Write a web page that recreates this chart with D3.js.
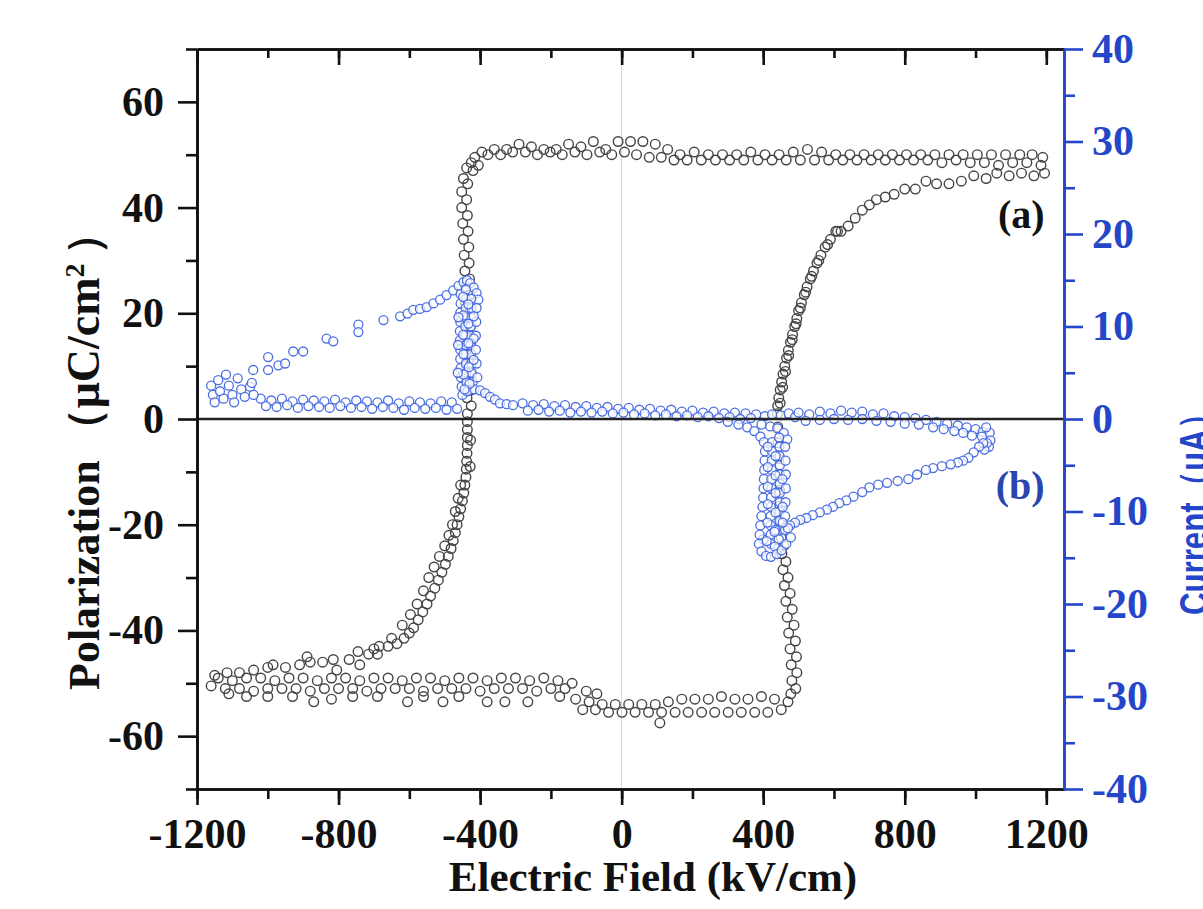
<!DOCTYPE html>
<html>
<head>
<meta charset="utf-8">
<script src="https://cdn.jsdelivr.net/npm/d3@7"></script>
<style>
  body { margin: 0; background: #fff; }
  svg { display: block; }
</style>
</head>
<body>
<svg id="chart" width="1203" height="909"></svg>
<script>
// ---- tick values ----
const fieldTicks = [-1200, -800, -400, 0, 400, 800, 1200];
const fieldMinor = [-1200, -1000, -800, -600, -400, -200, 0, 200, 400, 600, 800, 1000, 1200];
const polTicks = [-60, -40, -20, 0, 20, 40, 60];
const polMinor = [-70, -50, -30, -10, 10, 30, 50, 70];
const curTicks = [-40, -30, -20, -10, 0, 10, 20, 30, 40];
const curMinor = [-35, -25, -15, -5, 5, 15, 25, 35];

// ---- P-E loop (a): [E kV/cm, P uC/cm2] ----
const polLeftRise = [
  [-1150,-48.5],[-1115,-48],[-1080,-48],[-1040,-47.5],[-1000,-47],[-985,-46.5],[-950,-47],[-910,-46.5],
  [-889,-45],[-880,-46],[-845,-46],[-815,-45.5],[-805,-47.5],[-770,-45.5],[-745,-44],[-740,-46.5],[-715,-44.5],
  [-700,-43.5],[-685,-43],[-660,-43],[-635,-42.5],[-615,-41.5],[-600,-40.5],[-588,-39.5],[-575,-38],
  [-562,-36.5],[-550,-35],[-540,-33.5],[-528,-32],[-518,-30.5],[-508,-29],[-498,-27.5],[-490,-26],
  [-482,-24.5],[-476,-23],[-470,-21.5],[-465,-20],[-460,-18.5],[-455,-17],[-450,-15.5],[-446,-14],
  [-443,-12.5],[-440,-11],[-439,-9.5],[-438,-8],[-437,-6.5],[-436,-5],[-436,-3.5],[-436,-2],[-436,-0.5],
  [-690,-44.5],[-650,-41.5],[-620,-39],[-597,-37],[-578,-35],[-560,-32.5],[-545,-30],[-530,-28],
  [-515,-26],[-500,-24],[-488,-22],[-478,-20],[-470,-17.5],[-462,-15],[-455,-12.5],[-428,-9],[-427,-4],
  [-436,1],[-437,4],[-438,7],[-439,10],[-440,13],[-440,16],[-441,19],[-442,22],[-442,25],[-443,28],
  [-445,31],[-447,34],[-449,37],[-452,40],[-452,43],[-447,45.5],[-438,47.5],[-425,48.5],
  [-425,2.5],[-425,5.5],[-426,8.5],[-426,11.5],[-427,14.5],[-428,17.5],[-428,20.5],[-429,23.5],
  [-430,26.5],[-431,29.5],[-432,32.5],[-434,35.5],[-436,38.5],[-438,41.5],[-435,44.5],[-420,47],[-405,48]
];
const polTopPlateau = [
  [-415,49.5],[-395,50.5],[-360,51],[-325,51],[-290,52],[-255,51.5],[-220,51],[-185,51],[-150,52],
  [-115,51.5],[-80,52.5],[-45,51],[-10,52.5],[25,52.5],[60,52.5],[95,52],[130,51],[165,50],[205,50.5],
  [245,50],[285,50],[325,50],[365,50.5],[405,50],[445,50],[485,50.5],[525,51],[565,50.5],[605,50],
  [645,50],[685,50],[725,50],[765,50],[805,50],[845,50],[885,50],[925,50],[965,50],[1005,50],
  [1045,50],[1085,50],[1125,50],[1160,50],[1190,49.5],
  [-378,50],[-342,50],[-308,50.5],[-272,50.5],[-238,50],[-202,50.5],[-168,50],[-132,50.5],[-98,50],
  [-62,50.5],[-28,50],[8,50.5],[42,50],[78,49.5],[112,49.5],[148,49],[185,49],[225,49],[265,49],
  [305,49],[345,49],[385,49],[425,49],[465,49],[505,49],[545,49],[585,49],[625,49],[665,49],[705,49],
  [745,49],[785,49],[825,49],[865,49],[905,48.5],[945,49],[985,48.5],[1025,48.5],[1065,48],[1105,48.5],
  [1145,48.5],[1185,48]
];
const polRightFall = [
  [1195,46.5],[1165,46],[1130,46.5],[1095,46],[1060,46.5],[1030,45.5],[995,46],[960,45],[925,44.5],
  [890,44.5],[860,45],[830,43.5],[800,43.5],[770,42.5],[745,42],[720,41.5],[700,40.5],[680,39.5],
  [660,38],[640,36.5],[620,35.5],[605,35.5],[590,34],[575,32.5],[563,31],[552,29.5],[542,28],[533,26.5],
  [524,25],[516,23.5],[508,22],[500,20.5],[495,19],[489,17.5],[483,16],[477,14.5],[471,13],[466,11.5],
  [461,10],[456,8.5],[452,7],[448,5.5],[444,4],[441,2.5],[440,1],
  [610,35.5],[582,33],[557,30],[537,27],[520,24],[505,21],[493,18],[482,15],[472,12],[463,9],[455,6],[448,3],
  [441,-1.5],[442,-4.5],[443,-7.5],[444,-10.5],[446,-13.5],[447,-16.5],[449,-19.5],[451,-22.5],
  [453,-25.5],[456,-28.5],[460,-31.5],[464,-34.5],[468,-37.5],[472,-40.5],[476,-43.5],[479,-46.5],
  [481,-49.5],[478,-52],
  [458,-24],[464,-27],[470,-30],[476,-33],[482,-36],[487,-39],[491,-42],[494,-45],[495,-48],[492,-51]
];
const polBottomPlateau = [
  [470,-53.5],[432,-53],[395,-52.5],[357,-53],[320,-53],[282,-52.5],[245,-53],[207,-53],[170,-53],
  [132,-53.5],[95,-54],[57,-54],[20,-54],[-18,-54],[-55,-54],[-92,-53.5],
  [451,-55],[413,-55.5],[376,-55.5],[338,-55.5],[301,-55.5],[263,-55.5],[226,-55.5],[188,-55.5],
  [151,-55.5],[113,-55.5],[76,-55.5],[38,-55.5],[1,-55.5],[-37,-55.5],[-74,-55],[-110,-55],
  [108,-57.5],[-70,-52],[-100,-51.5],
  [-140,-50],[-180,-49.5],[-220,-49],[-260,-49.5],[-300,-49],[-340,-49],[-380,-49.5],[-420,-49],
  [-460,-49],[-500,-49.5],[-540,-49],[-580,-49],[-620,-49.5],[-660,-49],[-700,-49],[-740,-49.5],
  [-780,-49],[-820,-49],[-860,-49.5],[-900,-49],[-940,-49],[-980,-49.5],[-1020,-49],[-1060,-49],
  [-1100,-49.5],[-1140,-49],
  [-160,-51],[-200,-51],[-240,-51.5],[-280,-51],[-320,-51],[-360,-51],[-400,-51.5],[-440,-51],
  [-480,-51],[-520,-51],[-560,-51.5],[-600,-51],[-640,-51],[-680,-51],[-720,-51.5],[-760,-51],
  [-800,-51],[-840,-51],[-880,-51.5],[-920,-51],[-960,-51],[-1000,-51],[-1040,-51.5],[-1080,-51],
  [-1120,-51],[-1160,-50.5],
  [-130,-53],[-175,-52.5],[-265,-53.5],[-330,-53.5],[-380,-53.5],[-460,-52.5],[-505,-53.5],[-560,-52.5],
  [-605,-53.5],[-690,-52.5],[-760,-52.5],[-820,-53],[-870,-53.5],[-930,-52.5],[-1000,-52.5],
  [-1060,-52.5],[-1110,-52]
];

// ---- I-E loop (b): [E kV/cm, I uA] ----
const curBase = [
  [-1020,2.2],[-990,2],[-960,2.2],[-930,1.9],[-900,2.1],[-870,2],[-840,1.9],[-810,2.1],[-780,1.8],
  [-750,2],[-720,1.9],[-690,1.8],[-660,2],[-630,1.7],[-600,1.9],[-570,1.8],[-540,1.7],[-510,1.9],[-480,1.8],
  [-1005,1.4],[-975,1.3],[-945,1.5],[-915,1.2],[-885,1.4],[-855,1.3],[-825,1.2],[-795,1.4],[-765,1.2],
  [-735,1.3],[-705,1.1],[-675,1.3],[-645,1.2],[-615,1],[-585,1.2],[-555,1.1],[-525,1.2],[-495,1],[-465,1.1],
  [-280,1.7],[-250,1.5],[-220,1.6],[-190,1.4],[-160,1.5],[-130,1.3],[-100,1.4],[-70,1.2],[-40,1.3],
  [-10,1.1],[20,1.2],[50,1],[80,1.1],[110,0.9],[140,1],[170,0.8],[200,0.9],[230,0.7],[260,0.8],
  [290,0.6],[320,0.7],[350,0.6],[380,0.5],
  [-265,0.9],[-235,1],[-205,0.8],[-175,0.9],[-145,0.7],[-115,0.8],[-85,0.7],[-55,0.8],[-25,0.6],
  [5,0.7],[35,0.5],[65,0.6],[95,0.4],[125,0.5],[155,0.3],[185,0.4],[215,0.2],[245,0.3],[275,0.1],
  [305,0.2],[335,0],[365,0.1],
  [405,0.3],[425,0.5],[450,0.4],[472,0.6],[490,0.2],[395,-0.6],[420,-0.8],[440,-1],[458,-1.5],[468,-2.2],
  [500,0.7],[530,0.5],[560,0.8],[590,0.6],[620,0.9],[650,0.7],[680,0.8],[710,0.5],[740,0.6],[770,0.3],
  [800,0.2],[830,0.1],[860,-0.1],[890,-0.3],[920,-0.5],[950,-0.7],[975,-0.9],[1000,-1.1],[1020,-1.4],
  [520,-0.2],[560,-0.1],[600,0],[640,-0.1],[680,0],[720,-0.2],[760,-0.3],[800,-0.5],[840,-0.6],
  [880,-0.9],[910,-1.1],[940,-1.3],[965,-1.5],[990,-1.8]
];
const curLeftSpike = [
  [-1160,3.6],[-1155,2.6],[-1150,1.8],[-1140,4.2],[-1135,3],[-1125,2.2],[-1118,4.8],[-1110,3.6],
  [-1100,2.6],[-1095,1.8],[-1085,4.4],[-1075,3.2],[-1065,2.4],[-1050,3.5],[-1040,2.6],
  [-1041,5.3],[-1045,3.9],[-999,6.7],[-999,5.3],[-970,5.8],[-951,6],[-928,7.3],[-900,7.3],
  [-834,8.7],[-815,8.4],[-744,10.2],[-744,9.4],[-673,10.7],[-626,11.1],[-605,11.4],[-589,11.8],
  [-570,11.9],[-551,12.1],[-532,12.5],[-513,12.9],[-495,13.4],[-476,13.9],[-461,14.4],[-447,14.8],
  [-437,15],[-428,14.7],[-418,14.2],[-410,13.6],[-405,12.9],
  [-455,13.5],[-455,12.5],[-456,11.5],[-456,10.5],[-457,9.5],[-457,8.5],[-456,7.5],[-456,6.5],
  [-455,5.5],[-454,4.5],[-452,3.5],[-450,2.6],
  [-440,14],[-440,13],[-441,12],[-441,11],[-442,10],[-442,9],[-441,8],[-441,7],[-440,6],[-439,5],
  [-438,4],[-436,3],
  [-425,13],[-425,12],[-426,11],[-426,10],[-427,9],[-427,8],[-426,7],[-425,6],[-424,5],[-421,4],[-416,3.2],
  [-410,12],[-411,10.5],[-412,9],[-412,7.5],[-410,6],[-408,4.5],
  [-448,13.2],[-433,12.4],[-447,11.2],[-418,11.1],[-433,10.3],[-448,9.1],[-418,8.7],[-433,8.2],
  [-447,7],[-418,6.4],[-432,5.6],[-446,4.8],[-430,3.8],[-444,3.2],[-462,8],[-463,5],[-461,11],
  [-400,3.1],[-386,2.8],[-372,2.4],[-358,2.1],[-344,1.7],[-325,1.6],[-307,1.5]
];
const curRightSpike = [
  [1040,-1.5],[1042,-2.3],[1038,-3],[1030,-0.9],[1032,-2.6],[1025,-3.3],[1018,-1.9],[1022,-2.6],
  [1010,-3],[995,-3.6],[980,-4.2],[965,-4.5],[950,-4.7],[930,-4.9],[905,-5.1],[880,-5.3],[860,-5.5],
  [835,-6],[810,-6.5],[780,-6.7],[750,-6.9],[725,-7.1],[700,-7.4],[680,-7.9],[655,-8.4],[635,-8.8],
  [615,-9.1],[597,-9.5],[580,-9.8],[560,-10.1],[540,-10.4],[522,-10.7],[505,-10.9],[490,-11.2],[476,-11.5],
  [300,-0.3],[330,-0.6],[355,-0.9],[375,-1.3],[392,-1.9],[402,-2.5],
  [405,-3.5],[404,-4.5],[403,-5.5],[402,-6.5],[401,-7.5],[400,-8.5],[398,-9.5],[395,-10.5],[392,-11.5],
  [425,-2.5],[425,-3.5],[424,-4.5],[424,-5.5],[423,-6.5],[423,-7.5],[422,-8.5],[422,-9.5],[421,-10.5],
  [421,-11.5],[421,-12.5],[422,-13.5],
  [445,-2],[446,-3],[446,-4],[447,-5],[447,-6],[447,-7],[447,-8],[447,-9],[446,-10],[446,-11],
  [445,-12],[444,-13],[442,-14],
  [462,-3],[463,-4.5],[464,-6],[464,-7.5],[463,-9],[462,-10.5],[462,-12],
  [413,-3],[435,-4],[413,-5.2],[435,-6.1],[413,-7.3],[435,-8],[413,-9.2],[435,-10.1],[412,-11.2],
  [434,-12],[454,-6.5],[455,-9.5],[433,-13.8],[400,-13],[470,-11.8],
  [390,-12.5],[388,-13.5],[395,-14.3],[408,-14.8],[422,-14.9],[438,-14.6],[452,-14.2],[465,-13.5],
  [478,-12.8],[410,-13.2],[432,-12.2],[455,-11.2]
];

// ---- layout ----
const margin = {top: 49, right: 139, bottom: 120, left: 197},
      width = 1203 - margin.left - margin.right,
      height = 909 - margin.top - margin.bottom;

const blue = "#2447c9";
const serif = "'Liberation Serif', 'Times New Roman', serif";

const svg = d3.select("#chart");
const g = svg.append("g").attr("transform", `translate(${margin.left},${margin.top})`);

const x = d3.scaleLinear().domain([-1200, 1250]).range([0, width]);
const yP = d3.scaleLinear().domain([-70, 70]).range([height, 0]);
const yI = d3.scaleLinear().domain([-40, 40]).range([height, 0]);

// light guide at E = 0
g.append("line")
  .attr("x1", x(0)).attr("x2", x(0))
  .attr("y1", 0).attr("y2", height)
  .attr("stroke", "#d4d4d4").attr("stroke-width", 1);

const polPoints = [].concat(polLeftRise, polTopPlateau, polRightFall, polBottomPlateau);
const curPoints = [].concat(curBase, curLeftSpike, curRightSpike);

g.append("g").selectAll("circle")
  .data(polPoints)
  .join("circle")
    .attr("cx", d => x(d[0]))
    .attr("cy", d => yP(d[1]))
    .attr("r", 4.8)
    .attr("fill", "none")
    .attr("stroke", "#454545")
    .attr("stroke-width", 1.4);

g.append("g").selectAll("circle")
  .data(curPoints)
  .join("circle")
    .attr("cx", d => x(d[0]))
    .attr("cy", d => yI(d[1]))
    .attr("r", 4.5)
    .attr("fill", "#fff")
    .attr("fill-opacity", 0.7)
    .attr("stroke", "#4a6de4")
    .attr("stroke-width", 1.3);

// zero line
g.append("line")
  .attr("x1", 0).attr("x2", width)
  .attr("y1", yP(0)).attr("y2", yP(0))
  .attr("stroke", "#222").attr("stroke-width", 2.5);

// ---- axes ----
function styleAxis(sel, color) {
  sel.selectAll("path, line").attr("stroke", color).attr("stroke-width", 2.6);
  sel.selectAll("text")
    .attr("fill", color)
    .attr("font-size", 42)
    .attr("font-family", serif)
    .attr("font-weight", "bold");
}
const fmt = d => String(d);

g.append("g").call(d3.axisLeft(yP).tickValues(polMinor).tickSize(11).tickFormat("").tickSizeOuter(0))
  .call(s => styleAxis(s, "#111"));
g.append("g").call(d3.axisLeft(yP).tickValues(polTicks).tickSize(19).tickPadding(14).tickFormat(fmt).tickSizeOuter(0))
  .call(s => styleAxis(s, "#111"));

g.append("g").attr("transform", `translate(0,${height})`)
  .call(d3.axisBottom(x).tickValues(fieldMinor).tickSize(10).tickFormat("").tickSizeOuter(0))
  .call(s => styleAxis(s, "#111"));
g.append("g").attr("transform", `translate(0,${height})`)
  .call(d3.axisBottom(x).tickValues(fieldTicks).tickSize(16).tickPadding(13).tickFormat(fmt).tickSizeOuter(0))
  .call(s => styleAxis(s, "#111"));

g.append("g")
  .call(d3.axisTop(x).tickValues(fieldMinor).tickSize(-9).tickFormat("").tickSizeOuter(0))
  .call(s => styleAxis(s, "#111"));
g.append("g")
  .call(d3.axisTop(x).tickValues(fieldTicks).tickSize(-16).tickFormat("").tickSizeOuter(0))
  .call(s => styleAxis(s, "#111"));

g.append("g").attr("transform", `translate(${width},0)`)
  .call(d3.axisRight(yI).tickValues(curMinor).tickSize(11).tickFormat("").tickSizeOuter(0))
  .call(s => styleAxis(s, blue));
g.append("g").attr("transform", `translate(${width},0)`)
  .call(d3.axisRight(yI).tickValues(curTicks).tickSize(19).tickPadding(9).tickFormat(fmt).tickSizeOuter(0))
  .call(s => styleAxis(s, blue));

// ---- titles & panel labels ----
svg.append("text")
  .attr("x", 653).attr("y", 891)
  .attr("text-anchor", "middle")
  .attr("font-family", serif).attr("font-weight", "bold").attr("font-size", 43)
  .attr("fill", "#111")
  .text("Electric Field (kV/cm)");

const yTitle = svg.append("text")
  .attr("transform", "translate(99,690) rotate(-90)")
  .attr("text-anchor", "start")
  .attr("font-family", serif).attr("font-weight", "bold").attr("font-size", 44)
  .attr("fill", "#111");
yTitle.append("tspan").text("Polarization");
yTitle.append("tspan").attr("dx", 8).text("（");
yTitle.append("tspan").attr("font-size", 46).text("μC/cm");
yTitle.append("tspan").attr("baseline-shift", "super").attr("font-size", 28).text("2");
yTitle.append("tspan").attr("dx", 8).text("）");

svg.append("text")
  .attr("transform", "translate(1208,615) rotate(-90) scale(0.78,1)")
  .attr("text-anchor", "start")
  .attr("font-family", "'Liberation Sans', Arial, sans-serif").attr("font-weight", "bold").attr("font-size", 40)
  .attr("fill", blue)
  .text("Current（μA）");

g.append("text")
  .attr("x", x(1195)).attr("y", yP(36.2))
  .attr("text-anchor", "end")
  .attr("font-family", serif).attr("font-weight", "bold").attr("font-size", 40)
  .attr("fill", "#111")
  .text("(a)");

g.append("text")
  .attr("x", x(1195)).attr("y", yI(-8.7))
  .attr("text-anchor", "end")
  .attr("font-family", serif).attr("font-weight", "bold").attr("font-size", 40)
  .attr("fill", "#2a45b0")
  .text("(b)");
</script>
</body>
</html>
